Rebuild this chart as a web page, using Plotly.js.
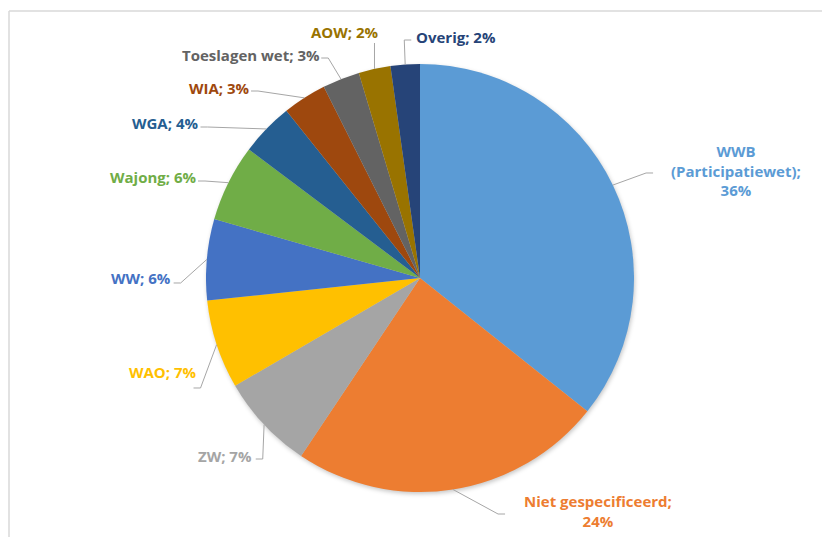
<!DOCTYPE html>
<html><head><meta charset="utf-8">
<script src="https://cdn.plot.ly/plotly-3.0.1.min.js"></script>
<style>
html,body{margin:0;padding:0;background:#fff}
#chart{width:822px;height:537px}
#chart .pielayer .trace{filter:drop-shadow(1px 2px 2px rgba(0,0,0,0.22))}
</style>
</head><body><div id="chart"></div>
<script>
// ---- data ----
const categories = ['WWB (Participatiewet)','Niet gespecificeerd','ZW','WAO','WW','Wajong','WGA','WIA','Toeslagen wet','AOW','Overig'];
const shares = [35.6, 23.6, 7.2, 6.7, 6.1, 5.8, 4.0, 3.3, 2.8, 2.4, 2.2];
const colors = ['#5B9BD5','#ED7D31','#A5A5A5','#FFC000','#4472C4','#70AD47','#255E91','#9E480E','#636363','#997300','#264478'];

// ---- layout / label placement (pixels, page coords) ----
const W = 822, H = 537;
const CX = 420, CY = 278, R = 214;
const FONT_FAMILY = 'Open Sans';
const FONT_SIZE = 15;
// wrap: 0 single line, 1 pct on new line, 2 every word on new line
const placement = [
  {cx:736, cy:170, side:'R', gap:18, dy:3, wrap:2},
  {cx:598, cy:511, side:'R', gap:19, dy:3, wrap:1},
  {cx:225, cy:456, side:'L', gap:4,  dy:3, wrap:0},
  {cx:163, cy:372, side:'L', gap:-3, dy:16, wrap:0},
  {cx:141, cy:278, side:'L', gap:3,  dy:5, wrap:0},
  {cx:153, cy:177, side:'L', gap:2,  dy:4, wrap:0},
  {cx:164.5, cy:123, side:'L', gap:3, dy:4, wrap:0},
  {cx:219, cy:88,  side:'L', gap:2,  dy:3, wrap:0},
  {cx:250.5, cy:55, side:'L', gap:2, dy:3, wrap:0},
  {cx:344.5, cy:32, side:'B', gap:0, dy:11, wrap:0},
  {cx:456, cy:37,  side:'R', gap:5,  dy:3, wrap:0}
];

const total = shares.reduce((a,b)=>a+b,0);
const ctx = document.createElement('canvas').getContext('2d');
ctx.font = 'bold ' + FONT_SIZE + 'px "' + FONT_FAMILY + '"';

const px = x => x / W;
const py = y => 1 - y / H;

const annotations = [];
const shapes = [];
let cum = 0;
categories.forEach((cat, i) => {
  const pct = Math.round(shares[i] / total * 100) + '%';
  const p = placement[i];
  let lines;
  if (p.wrap === 2) lines = cat.split(' ').map((s,k,arr)=> k===arr.length-1 ? s + ';' : s).concat([pct]);
  else if (p.wrap === 1) lines = [cat + ';', pct];
  else lines = [cat + '; ' + pct];
  const w = Math.max(...lines.map(l => ctx.measureText(l).width));
  annotations.push({
    xref:'paper', yref:'paper', x: px(p.cx), y: py(p.cy), xanchor:'center', yanchor:'middle',
    text: lines.map(l => '<b>' + l + '</b>').join('<br>'), showarrow:false, align:'center',
    font:{family:FONT_FAMILY, size:FONT_SIZE, color:colors[i]}
  });
  // leader start: slice mid-angle on the pie edge (clockwise from 12 o'clock)
  const mid = (cum + shares[i] / 2) / total * 2 * Math.PI;
  cum += shares[i];
  const sx = CX + R * Math.sin(mid), sy = CY - R * Math.cos(mid);
  let pts;
  if (p.side === 'L') {
    const ex = p.cx + w/2 + p.gap, ey = p.cy + p.dy;
    pts = [[sx,sy],[ex+7,ey],[ex,ey]];
  } else if (p.side === 'R') {
    const ex = p.cx - w/2 - p.gap, ey = p.cy + p.dy;
    pts = [[sx,sy],[ex-7,ey],[ex,ey]];
  } else {
    pts = [[sx,sy],[sx,p.cy + p.dy]];
  }
  shapes.push({
    type:'path', xref:'paper', yref:'paper',
    path: pts.map((q,k)=>(k?'L':'M') + px(q[0]).toFixed(5) + ',' + py(q[1]).toFixed(5)).join(' '),
    line:{color:'#A6A6A6', width:1}
  });
});

// chart frame
shapes.push({type:'line', xref:'paper', yref:'paper', x0:px(9), x1:1.01, y0:py(11), y1:py(11), line:{color:'#D9D9D9', width:1.5}});
shapes.push({type:'line', xref:'paper', yref:'paper', x0:px(9), x1:px(9), y0:py(11), y1:-0.01, line:{color:'#D9D9D9', width:1.5}});

const trace = {
  type:'pie', labels:categories, values:shares, sort:false, direction:'clockwise', rotation:0,
  marker:{colors:colors, line:{width:0}}, textinfo:'none', hoverinfo:'label+percent',
  domain:{x:[(CX-R)/W, (CX+R)/W], y:[(H-CY-R)/H, (H-CY+R)/H]}, showlegend:false
};

Plotly.newPlot('chart', [trace], {
  width:W, height:H, margin:{l:0,r:0,t:0,b:0},
  paper_bgcolor:'#ffffff', plot_bgcolor:'#ffffff',
  annotations:annotations, shapes:shapes, showlegend:false
}, {displayModeBar:false, staticPlot:true});
</script>
</body></html>
